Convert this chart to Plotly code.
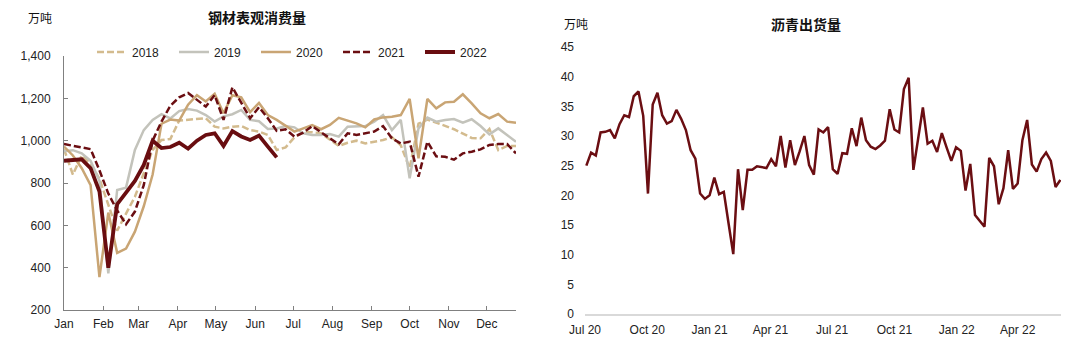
import datetime as dt
import plotly.graph_objects as go

# ---- Steel apparent consumption, weekly (10k tonnes) ----
months_left = ["Jan", "Feb", "Mar", "Apr", "May", "Jun", "Jul", "Aug", "Sep", "Oct", "Nov", "Dec"]

steel_2018 = [960, 840, 930, 890, 820, 700, 575, 655, 735, 846, 956, 1003, 1008, 1095, 1098, 1100,
              1106, 1066, 1058, 1066, 1069, 1050, 1043, 1027, 956, 968, 1016, 1040, 1040, 1035, 1003,
              975, 990, 1000, 987, 995, 1003, 1016, 978, 870, 1080, 1100, 1086, 1070, 1054, 1035,
              1013, 1011, 1055, 956, 975, 975]
steel_2019 = [950, 955, 940, 905, 810, 373, 767, 778, 956, 1050, 1098, 1125, 1105, 1140, 1150, 1142,
              1121, 1090, 1115, 1125, 1145, 1098, 1092, 1055, 1058, 1069, 1063, 1035, 1027, 1027, 1031,
              1019, 1066, 1066, 1069, 1090, 1121, 1050, 1098, 822, 1058, 1109, 1090, 1098, 1102, 1085,
              1101, 1069, 1030, 1058, 1027, 995]
steel_2020 = [972, 930, 870, 790, 355, 660, 470, 490, 570, 690, 840, 1080, 1100, 1095, 1170, 1215,
              1185, 1222, 1130, 1215, 1205, 1135, 1178, 1121, 1098, 1069, 1043, 1058, 1074, 1054, 1074,
              1108, 1094, 1082, 1063, 1100, 1110, 1113, 1121, 1197, 917, 1197, 1153, 1181, 1184, 1219,
              1176, 1129, 1106, 1126, 1090, 1085]
steel_2021 = [984, 976, 970, 960, 860, 750, 670, 605, 665, 790, 1000, 1090, 1165, 1205, 1225, 1192,
              1161, 1215, 1098, 1252, 1177, 1106, 1158, 1106, 1046, 1054, 1019, 1038, 1069, 1038, 1011,
              983, 1035, 1027, 1035, 1043, 1069, 1011, 987, 995, 830, 995, 926, 924, 910, 940,
              948, 959, 980, 984, 984, 940]
steel_2022 = [905, 910, 912, 870, 760, 400, 700, 755, 810, 885, 1000, 965, 970, 990, 962, 1000,
              1027, 1035, 975, 1045, 1020, 1003, 1024, 972, 921]

# ---- Asphalt shipments, weekly (10k tonnes), from 2020-07-03 ----
asphalt = [25.0, 27.2, 26.7, 30.6, 30.7, 31.0, 29.6, 32.0, 33.5, 33.2, 36.7, 37.5, 33.4, 20.3,
           35.3, 37.3, 33.5, 32.1, 32.5, 34.4, 32.9, 31.0, 27.6, 26.2, 20.3, 19.4, 20.0, 23.0,
           20.2, 20.6, 15.3, 10.1, 24.4, 17.5, 24.3, 24.3, 24.9, 24.7, 24.6, 26.1, 24.9, 30.0,
           24.7, 29.3, 25.1, 27.4, 30.0, 25.1, 23.5, 31.1, 30.6, 31.5, 24.4, 23.6, 27.1, 27.0,
           31.3, 28.3, 33.1, 29.3, 28.2, 27.8, 28.4, 29.2, 34.5, 31.1, 30.6, 37.9, 39.8, 24.3,
           29.6, 34.8, 28.7, 29.2, 27.3, 30.5, 28.1, 25.8, 28.1, 27.5, 20.8, 25.3, 16.7, 15.7,
           14.7, 26.3, 24.9, 18.5, 21.2, 27.6, 21.1, 22.0, 29.3, 32.7, 25.2, 24.0, 26.1, 27.2,
           25.8, 21.4, 22.6]
asphalt_start = dt.date(2020, 7, 3)

# common calendar year used to overlay the yearly steel series
base = dt.date(2022, 1, 1)


def week_dates(start, n):
    return [start + dt.timedelta(days=7 * i) for i in range(n)]


TAN = "#c9a574"
TAN_LIGHT = "#d3bb8e"
GREY = "#c3c3bb"
MAROON = "#6b0e12"
MAROON_D = "#690d10"

fig = go.Figure()

steel_series = [
    ("2018", steel_2018, TAN_LIGHT, "7px,3px", 2.5),
    ("2019", steel_2019, GREY, "solid", 2.5),
    ("2020", steel_2020, TAN, "solid", 2.5),
    ("2021", steel_2021, MAROON, "7px,3px", 2.5),
    ("2022", steel_2022, MAROON_D, "solid", 3.8),
]
for name, vals, color, dash, width in steel_series:
    fig.add_trace(go.Scatter(
        x=week_dates(base, len(vals)), y=vals, name=name, mode="lines",
        line=dict(color=color, width=width, dash=dash),
        xaxis="x", yaxis="y",
    ))

fig.add_trace(go.Scatter(
    x=week_dates(asphalt_start, len(asphalt)), y=asphalt, name="沥青出货量", mode="lines",
    line=dict(color=MAROON, width=2.5), xaxis="x2", yaxis="y2", showlegend=False,
))

W, H = 1080, 350
TICK_FONT = dict(family="Liberation Sans, Arial, sans-serif", size=12, color="#222222")


def px_x(p):
    return p / W


def px_y(p):
    return 1 - p / H


fig.update_layout(
    width=W, height=H,
    margin=dict(l=0, r=0, t=0, b=0, autoexpand=False),
    paper_bgcolor="white", plot_bgcolor="white",
    showlegend=True,
    xaxis=dict(
        domain=[px_x(64), px_x(516)], type="date", automargin=False,
        range=[base, base + dt.timedelta(days=357)],
        tick0=base, dtick="M1", tickformat="%b",
        ticks="inside", ticklen=4, tickcolor="#808080",
        showline=True, linecolor="#808080", linewidth=1,
        showgrid=False, zeroline=False, tickfont=TICK_FONT,
        ticklabelstandoff=3,
    ),
    yaxis=dict(
        domain=[px_y(310), px_y(56)], anchor="x", automargin=False,
        range=[200, 1400], dtick=200, tickformat=",",
        ticks="inside", ticklen=4, tickcolor="#808080",
        showline=True, linecolor="#808080", linewidth=1,
        showgrid=False, zeroline=False, tickfont=TICK_FONT,
        ticklabelstandoff=10,
    ),
    xaxis2=dict(
        domain=[px_x(585), px_x(1061)], type="date", anchor="y2", automargin=False,
        range=[dt.date(2020, 7, 1), dt.date(2022, 6, 4)],
        tick0=dt.date(2020, 7, 1), dtick="M3", tickformat="%b %y",
        ticks="", showline=True, linecolor="#d9d9d9", linewidth=2,
        showgrid=False, zeroline=False, tickfont=TICK_FONT,
        ticklabelstandoff=4,
    ),
    yaxis2=dict(
        domain=[px_y(314), px_y(47)], anchor="x2", automargin=False,
        range=[0, 45], dtick=5,
        ticks="", showline=False,
        showgrid=False, zeroline=False, tickfont=TICK_FONT,
        ticklabelstandoff=10,
    ),
    legend=dict(
        orientation="h", x=px_x(92), y=px_y(52), xanchor="left", yanchor="middle",
        font=dict(family="Liberation Sans, Arial, sans-serif", size=12, color="#222222"),
        bgcolor="rgba(0,0,0,0)", entrywidth=37, itemwidth=30,
    ),
)

CJK = "Noto Sans CJK SC, sans-serif"
annotations = [
    ("<b>钢材表观消费量</b>", 257, 17, 14),
    ("万吨", 40, 18, 12),
    ("<b>沥青出货量</b>", 806, 24, 14),
    ("万吨", 576, 23, 12),
]
for text, x, y, size in annotations:
    fig.add_annotation(
        text=text, x=px_x(x), y=px_y(y), xref="paper", yref="paper",
        xanchor="center", yanchor="middle", showarrow=False,
        font=dict(family=CJK, size=size, color="#111111"),
    )

fig.write_html("out.html")
